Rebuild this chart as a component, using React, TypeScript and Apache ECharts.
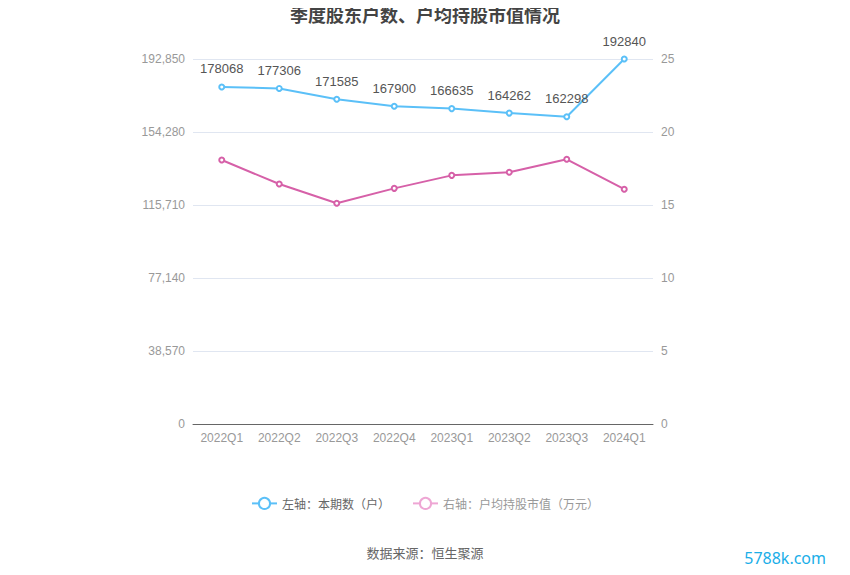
import React, { useEffect, useRef } from "react";
import * as echarts from "echarts";

const categories = ["2022Q1", "2022Q2", "2022Q3", "2022Q4", "2023Q1", "2023Q2", "2023Q3", "2024Q1"];
const holders = [178068, 177306, 171585, 167900, 166635, 164262, 162298, 192840];
const avgValue = [18.08, 16.44, 15.12, 16.14, 17.03, 17.24, 18.13, 16.08];
const leftMax = 192850;
const leftInterval = 38570;
const rightMax = 25;
const rightInterval = 5;

export default function App() {
  const ref = useRef<HTMLDivElement>(null);
  useEffect(() => {
    if (!ref.current) return;
    const chart = echarts.init(ref.current, null, { renderer: "svg" });
    chart.setOption({
      animation: false,
      backgroundColor: "#ffffff",
      title: {
        text: "季度股东户数、户均持股市值情况",
        left: "center",
        top: 0,
        textStyle: { fontSize: 18, fontWeight: "bold", color: "#444444", fontFamily: "Noto Sans CJK SC" },
      },
      legend: {
        bottom: 60,
        left: "center",
        itemGap: 22,
        itemWidth: 25,
        itemHeight: 14,
        textStyle: { fontSize: 12, color: "#666666", fontFamily: "Noto Sans CJK SC" },
        data: [
          { name: "左轴：本期数（户）" },
          {
            name: "右轴：户均持股市值（万元）",
            textStyle: { color: "#999999" },
            itemStyle: { color: "#eea6d4", borderColor: "#eea6d4" },
            lineStyle: { color: "#eea6d4" },
          },
        ],
      },
      grid: { left: 193, right: 197, top: 59, bottom: 151, containLabel: false },
      xAxis: {
        type: "category",
        data: categories,
        boundaryGap: true,
        axisLine: { lineStyle: { color: "#666666" } },
        axisTick: { alignWithLabel: true, lineStyle: { color: "#666666" } },
        axisLabel: { color: "#999999", fontSize: 12, margin: 8 },
      },
      yAxis: [
        {
          type: "value",
          min: 0,
          max: leftMax,
          interval: leftInterval,
          axisLine: { show: false },
          axisTick: { show: false },
          axisLabel: { color: "#999999", fontSize: 12, margin: 8 },
          splitLine: { lineStyle: { color: "#e0e6f1" } },
        },
        {
          type: "value",
          min: 0,
          max: rightMax,
          interval: rightInterval,
          axisLine: { show: false },
          axisTick: { show: false },
          axisLabel: { color: "#999999", fontSize: 12, margin: 8 },
          splitLine: { show: false },
        },
      ],
      series: [
        {
          name: "左轴：本期数（户）",
          type: "line",
          yAxisIndex: 0,
          data: holders,
          symbol: "emptyCircle",
          symbolSize: 5,
          itemStyle: { color: "#5bc0f8" },
          lineStyle: { width: 2, color: "#5bc0f8" },
          label: { show: true, position: "top", color: "#555555", fontSize: 13, distance: 8 },
          z: 3,
        },
        {
          name: "右轴：户均持股市值（万元）",
          type: "line",
          yAxisIndex: 1,
          data: avgValue,
          symbol: "emptyCircle",
          symbolSize: 5,
          itemStyle: { color: "#d660a8" },
          lineStyle: { width: 2, color: "#d660a8" },
        },
      ],
      graphic: [
        {
          type: "text",
          left: "center",
          top: 546,
          style: { text: "数据来源：恒生聚源", fill: "#666666", fontSize: 13, fontFamily: "Noto Sans CJK SC" },
        },
        {
          type: "text",
          right: 24,
          top: 550,
          style: { text: "5788k.com", fill: "#1aaee8", fontSize: 16, fontFamily: "Noto Sans" },
        },
      ],
    });
    return () => chart.dispose();
  }, []);
  return <div ref={ref} style={{ width: 850, height: 575, marginLeft: -8, marginTop: -8 }} />;
}
